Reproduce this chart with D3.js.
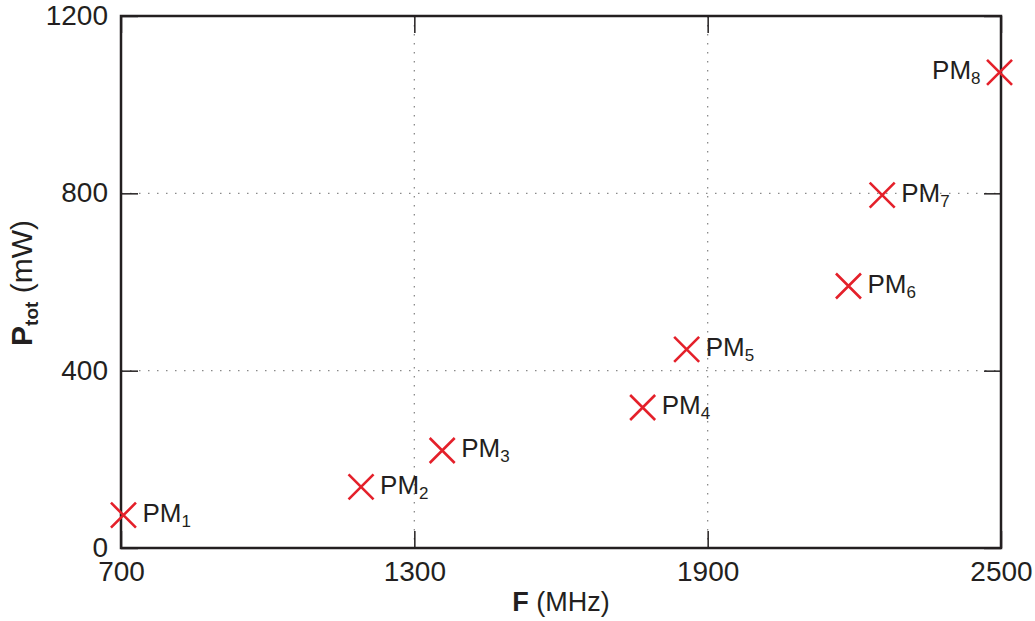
<!DOCTYPE html>
<html><head><meta charset="utf-8">
<script src="https://cdn.jsdelivr.net/npm/d3@7"></script>
<style>body{margin:0;background:#fff}svg{display:block}text{font-family:"Liberation Sans",Arial,sans-serif;fill:#231f20}</style>
</head><body>
<svg id="c" width="1035" height="621"></svg>
<script>
const labels = ["1","2","3","4","5","6","7","8"];
const freq = [705, 1191, 1357, 1767, 1857, 2188, 2257, 2497];
const power = [74, 138, 220, 317, 448, 591, 796, 1073];
const labelSide = ["r","r","r","r","r","r","r","l"];
const xTicks = [700, 1300, 1900, 2500];
const yTicks = [0, 400, 800, 1200];

const svg = d3.select("#c");
const L = 121, R = 1001, T = 16, B = 548;
const x = d3.scaleLinear().domain([700, 2500]).range([L, R]);
const y = d3.scaleLinear().domain([0, 1200]).range([B, T]);
const ink = "#231f20";

// grid
svg.append("g").selectAll("line").data(xTicks.slice(1, -1)).join("line")
  .attr("x1", d => x(d)).attr("x2", d => x(d)).attr("y1", T).attr("y2", B)
  .attr("stroke", "#8a8a8a").attr("stroke-width", 1.3).attr("stroke-dasharray", "1.5,7.5");
svg.append("g").selectAll("line").data(yTicks.slice(1, -1)).join("line")
  .attr("y1", d => y(d)).attr("y2", d => y(d)).attr("x1", L).attr("x2", R)
  .attr("stroke", "#8a8a8a").attr("stroke-width", 1.3).attr("stroke-dasharray", "1.5,7.5");

// axes (ticks inward)
const tl = 17;
const axB = svg.append("g").attr("transform", `translate(0,${B})`)
  .call(d3.axisBottom(x).tickValues(xTicks).tickSize(-tl).tickPadding(13).tickFormat(d3.format("d")));
const axT = svg.append("g").attr("transform", `translate(0,${T})`)
  .call(d3.axisTop(x).tickValues(xTicks).tickSize(-tl).tickFormat(""));
const axL = svg.append("g").attr("transform", `translate(${L},0)`)
  .call(d3.axisLeft(y).tickValues(yTicks).tickSize(-tl).tickPadding(13).tickFormat(d3.format("d")));
const axR = svg.append("g").attr("transform", `translate(${R},0)`)
  .call(d3.axisRight(y).tickValues(yTicks).tickSize(-tl).tickFormat(""));
[axB, axT, axL, axR].forEach(g => {
  g.select(".domain").remove();
  g.selectAll(".tick line").attr("stroke", ink).attr("stroke-width", 1.5);
  g.selectAll("text").attr("font-size", 28).attr("fill", ink).attr("font-family", "Liberation Sans, Arial, sans-serif");
});
axB.selectAll("text").attr("dy", "0.71em").attr("y", 13);
axL.selectAll("text").attr("dy", "0.3em");

svg.append("rect").attr("x", L).attr("y", T).attr("width", R - L).attr("height", B - T)
  .attr("fill", "none").attr("stroke", ink).attr("stroke-width", 2.5);

// axis titles
const xt = svg.append("text").attr("x", 561).attr("y", 611).attr("text-anchor", "middle").attr("font-size", 27);
xt.append("tspan").attr("font-weight", "bold").text("F");
xt.append("tspan").text(" (MHz)");
const yt = svg.append("text").attr("transform", "translate(32,283) rotate(-90)").attr("text-anchor", "middle").attr("font-size", 30);
yt.append("tspan").attr("font-weight", "bold").text("P");
yt.append("tspan").attr("font-weight", "bold").attr("font-size", 19).attr("dy", 6).text("tot");
yt.append("tspan").attr("dy", -6).text(" (mW)");

// markers
const s = 12.5;
const pts = svg.append("g").selectAll("g").data(freq.map((f, i) => ({f, p: power[i], l: labels[i], side: labelSide[i]}))).join("g")
  .attr("transform", d => `translate(${x(d.f)},${y(d.p)})`);
pts.append("path").attr("d", `M${-s},${-s}L${s},${s}M${-s},${s}L${s},${-s}`)
  .attr("stroke", "#e4202a").attr("stroke-width", 2.6).attr("fill", "none");
const lt = pts.append("text").attr("font-size", 26)
  .attr("x", d => d.side === "r" ? 19 : -19).attr("y", 7)
  .attr("text-anchor", d => d.side === "r" ? "start" : "end");
lt.append("tspan").text("PM");
lt.append("tspan").attr("font-size", 17).attr("dy", 5).text(d => d.l);
</script>
</body></html>
